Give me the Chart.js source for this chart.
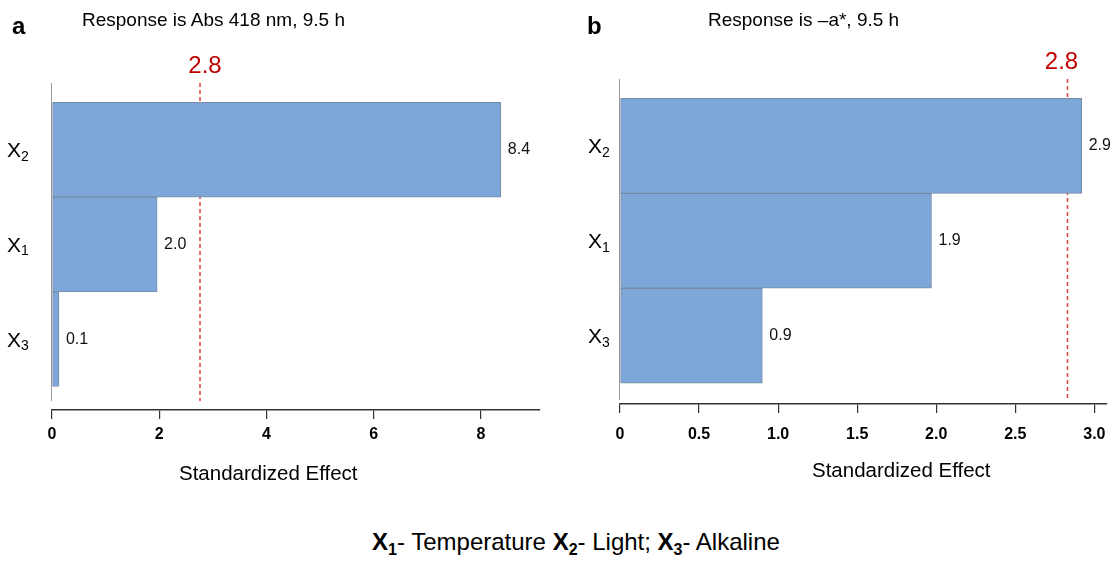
<!DOCTYPE html>
<html><head><meta charset="utf-8">
<script src="https://cdn.jsdelivr.net/npm/chart.js@4.4.1/dist/chart.umd.min.js"></script>
<style>
html,body{margin:0;padding:0;background:#fff;}
body{width:1118px;height:561px;position:relative;overflow:hidden;font-family:"Liberation Sans",Arial,sans-serif;color:#000;}
.cv{position:absolute;top:0;width:559px;height:500px;}
.t{position:absolute;white-space:nowrap;}
.cap b sub{font-size:16px;vertical-align:-5px;line-height:0;}
</style></head><body>
<div class="cv" style="left:0"><canvas id="ca"></canvas></div>
<div class="cv" style="left:559px"><canvas id="cb"></canvas></div>
<div class="t" style="left:12px;top:14px;font:bold 24px/24px 'Liberation Sans';">a</div>
<div class="t" style="left:587px;top:14px;font:bold 24px/24px 'Liberation Sans';">b</div>
<div class="t" style="left:82px;top:10px;font:19px/19px 'Liberation Sans';">Response is Abs 418 nm, 9.5 h</div>
<div class="t" style="left:708px;top:10px;font:19px/19px 'Liberation Sans';">Response is –a*, 9.5 h</div>
<div class="t" style="left:179px;top:463px;font:20.5px/20.5px 'Liberation Sans';">Standardized Effect</div>
<div class="t" style="left:812px;top:460px;font:20.5px/20.5px 'Liberation Sans';">Standardized Effect</div>
<div class="t cap" style="left:0;width:1152px;text-align:center;top:530px;font:24px/24px 'Liberation Sans';"><b>X<sub>1</sub></b>- Temperature <b>X<sub>2</sub></b>- Light; <b>X<sub>3</sub></b>- Alkaline</div>
<script>
// ---- data ----
const categories = ['X2', 'X1', 'X3'];
const effectsA = [8.37, 1.96, 0.13];
const valueLabelsA = ['8.4', '2.0', '0.1'];
const ticksA = [0, 2, 4, 6, 8];
const critA = 2.76;
const critLabelA = '2.8';

const effectsB = [2.92, 1.97, 0.90];
const valueLabelsB = ['2.9', '1.9', '0.9'];
const ticksB = [0, 0.5, 1.0, 1.5, 2.0, 2.5, 3.0];
const critB = 2.83;
const critLabelB = '2.8';

const FONT = '"Liberation Sans", Arial, sans-serif';

const panelPlugin = {
  id: 'panel',
  beforeDatasetsDraw(chart, args, o) {
    const {ctx, chartArea: a, scales: {x}} = chart;
    ctx.save();
    ctx.strokeStyle = '#9a9a9a'; ctx.lineWidth = 1;
    const lx = Math.round(a.left) - 0.5;
    ctx.beginPath(); ctx.moveTo(lx, a.top); ctx.lineTo(lx, a.bottom - o.axisGap); ctx.stroke();
    const cx = x.getPixelForValue(o.crit);
    ctx.strokeStyle = '#e5403c'; ctx.lineWidth = 1.5; ctx.setLineDash([4, 3]);
    ctx.beginPath(); ctx.moveTo(cx, a.top); ctx.lineTo(cx, a.bottom - o.axisGap); ctx.stroke();
    ctx.setLineDash([]);
    ctx.fillStyle = '#c00000'; ctx.font = '24px ' + FONT;
    ctx.textAlign = 'center'; ctx.textBaseline = 'alphabetic';
    ctx.fillText(o.critLabel, cx + o.critDx, a.top - 10);
    ctx.restore();
  },
  afterDatasetsDraw(chart, args, o) {
    const {ctx} = chart;
    const meta = chart.getDatasetMeta(0);
    ctx.save();
    ctx.fillStyle = '#111'; ctx.font = '16px ' + FONT;
    ctx.textAlign = 'left'; ctx.textBaseline = 'middle';
    meta.data.forEach((bar, i) => {
      ctx.fillText(o.valueLabels[i], bar.x + 7, bar.y);
    });
    const ys = chart.scales.y;
    ctx.textBaseline = 'alphabetic'; ctx.fillStyle = '#000';
    categories.forEach((c, i) => {
      const cy = ys.getPixelForValue(i);
      ctx.font = '21px ' + FONT;
      const base = c[0], sub = c.slice(1);
      ctx.fillText(base, o.labelX, cy + 7.5);
      const w = ctx.measureText(base).width;
      ctx.font = '14px ' + FONT;
      ctx.fillText(sub, o.labelX + w, cy + 11);
    });
    ctx.restore();
  }
};

function makeChart(id, o) {
  return new Chart(document.getElementById(id), {
    type: 'bar',
    data: {
      datasets: [{
        data: o.values.map((v, i) => ({x: v, y: i})),
        backgroundColor: 'rgb(124,167,216)',
        borderColor: 'rgb(118,138,164)',
        borderWidth: 1,
        borderSkipped: false,
        barPercentage: 1,
        categoryPercentage: 1
      }]
    },
    options: {
      indexAxis: 'y',
      responsive: true,
      maintainAspectRatio: false,
      animation: false,
      layout: {padding: o.padding},
      plugins: {
        legend: {display: false},
        tooltip: {enabled: false},
        panel: o
      },
      scales: {
        y: {
          type: 'linear', reverse: true, min: o.yMin, max: o.yMax, display: false, offset: false,
          grid: {offset: false},
          afterBuildTicks: s => { s.ticks = categories.map((_, i) => ({value: i})); }
        },
        x: {
          type: 'linear', position: 'bottom', min: 0, max: o.xMax, offset: false,
          afterBuildTicks: s => { s.ticks = o.ticks.map(v => ({value: v})); },
          afterFit: s => { s.height = o.xHeight; },
          grid: {display: true, drawOnChartArea: false, drawTicks: true, tickLength: 9, color: '#333', lineWidth: 1.2},
          border: {display: true, color: '#333', width: 1.5},
          ticks: {
            font: {family: FONT, size: 16, weight: 'bold'}, color: '#000', padding: o.tickPad,
            maxRotation: 0, autoSkip: false,
            callback: v => v === 0 ? '0' : (o.decimals ? v.toFixed(1) : String(v))
          },
          title: {display: false}
        }
      }
    },
    plugins: [panelPlugin]
  });
}

makeChart('ca', {
  values: effectsA, valueLabels: valueLabelsA, ticks: ticksA, crit: critA, critLabel: critLabelA,
  padding: {left: 52, right: 19, top: 83, bottom: 0},
  xMax: 9.1, yMin: -0.705, yMax: 2.748, xHeight: 90, tickPad: 6,
  axisGap: 9, critDx: 5, labelX: 7, decimals: false
});
makeChart('cb', {
  values: effectsB, valueLabels: valueLabelsB, ticks: ticksB, crit: critB, critLabel: critLabelB,
  padding: {left: 61, right: 11, top: 79, bottom: 0},
  xMax: 3.08, yMin: -0.705, yMax: 2.72, xHeight: 96, tickPad: 12,
  axisGap: 4, critDx: -6, labelX: 29, decimals: true
});
</script>
</body></html>
